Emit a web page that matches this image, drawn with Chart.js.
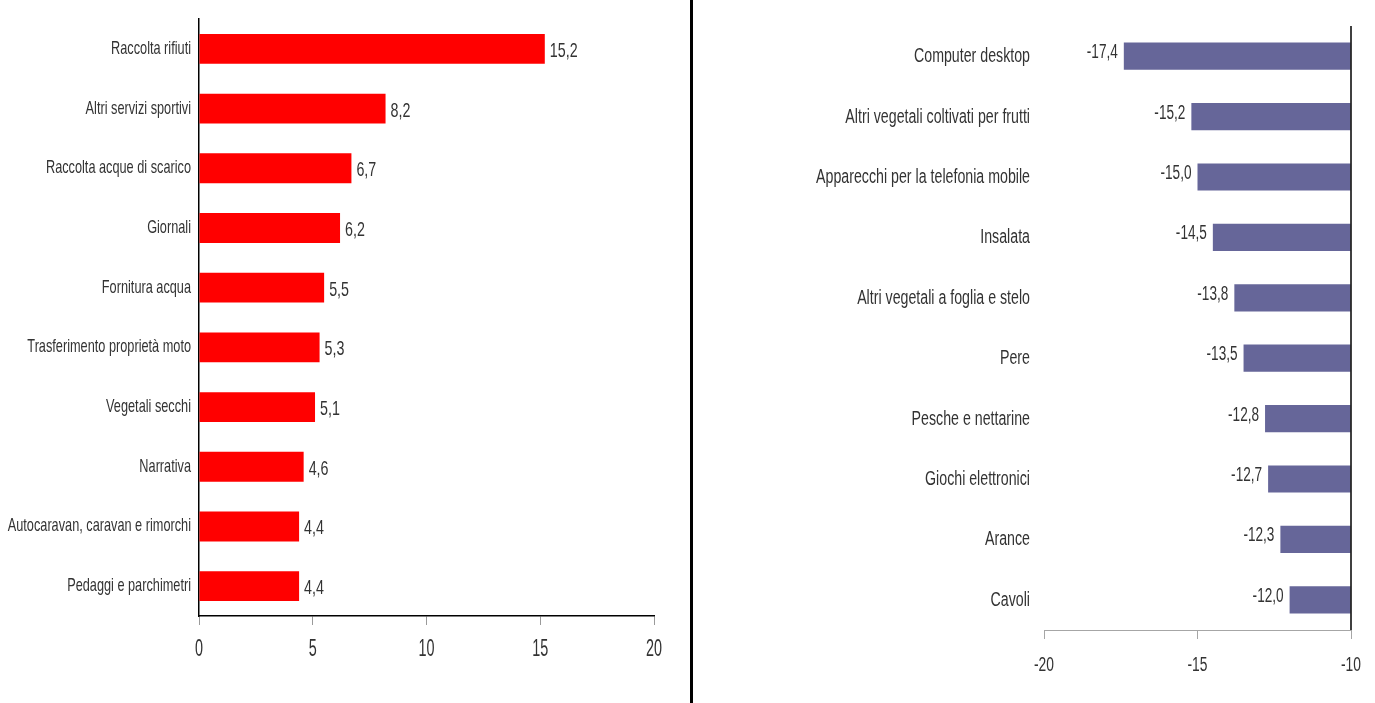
<!DOCTYPE html>
<html>
<head>
<meta charset="utf-8">
<script src="https://cdn.jsdelivr.net/npm/chart.js@4"></script>
<style>
  body { margin: 0; background: #fff; }
  #wrap { position: relative; width: 1375px; height: 703px; }
  #boxLeft { position: absolute; left: 0; top: 0; width: 690px; height: 703px; }
  #boxRight { position: absolute; left: 692px; top: 0; width: 683px; height: 703px; }
  #divider { position: absolute; left: 690px; top: 0; width: 3px; height: 703px; background: #000; }
</style>
</head>
<body>
<div id="wrap">
  <div id="boxLeft"><canvas id="chartUp"></canvas></div>
  <div id="divider"></div>
  <div id="boxRight"><canvas id="chartDown"></canvas></div>
</div>
<script>
const upLabels = [
    "Raccolta rifiuti", "Altri servizi sportivi", "Raccolta acque di scarico", "Giornali",
    "Fornitura acqua", "Trasferimento proprietà moto", "Vegetali secchi", "Narrativa",
    "Autocaravan, caravan e rimorchi", "Pedaggi e parchimetri"
];
const upValues = [15.2, 8.2, 6.7, 6.2, 5.5, 5.3, 5.1, 4.6, 4.4, 4.4];
const upTicks = [0, 5, 10, 15, 20];

const downLabels = [
    "Computer desktop", "Altri vegetali coltivati per frutti", "Apparecchi per la telefonia mobile",
    "Insalata", "Altri vegetali a foglia e stelo", "Pere", "Pesche e nettarine",
    "Giochi elettronici", "Arance", "Cavoli"
];
const downValues = [-17.4, -15.2, -15.0, -14.5, -13.8, -13.5, -12.8, -12.7, -12.3, -12.0];
const downTicks = [-20, -15, -10];

const FONT = "'Liberation Sans', Arial, sans-serif";
const TEXT = '#333333';

Chart.defaults.font.family = FONT;
Chart.defaults.color = TEXT;
Chart.defaults.animation = false;

const fmt = v => v.toFixed(1).replace('.', ',');

// the original uses a very narrow face: squeeze the text horizontally with fillText's maxWidth
function squeezed(ctx, text, x, y, k) {
    const w = ctx.measureText(text).width;
    ctx.fillText(text, x, y, w * k);
}

// draws category labels, tick labels and bar values
function textLayer(cfg) {
    return {
        id: 'textLayer',
        afterDatasetsDraw(chart) {
            const ctx = chart.ctx;
            const xs = chart.scales.x;
            const ys = chart.scales.y;
            const meta = chart.getDatasetMeta(0);
            const values = chart.data.datasets[0].data;
            ctx.save();
            ctx.fillStyle = TEXT;
            ctx.textBaseline = 'alphabetic';

            ctx.font = cfg.cat.size + "px " + FONT;
            ctx.textAlign = 'right';
            chart.data.labels.forEach((lab, i) => {
                squeezed(ctx, lab, ys.right - cfg.cat.gap, ys.getPixelForTick(i) + cfg.cat.dy, cfg.cat.k);
            });

            ctx.font = cfg.tick.size + "px " + FONT;
            ctx.textAlign = 'center';
            xs.ticks.forEach(t => {
                squeezed(ctx, String(t.value), xs.getPixelForValue(t.value), xs.top + cfg.tick.dy, cfg.tick.k);
            });

            ctx.font = cfg.val.size + "px " + FONT;
            meta.data.forEach((bar, i) => {
                if (cfg.val.side === 'right') {
                    ctx.textAlign = 'left';
                    squeezed(ctx, fmt(values[i]), bar.x + cfg.val.gap, bar.y + cfg.val.dy, cfg.val.k);
                } else {
                    ctx.textAlign = 'right';
                    squeezed(ctx, fmt(values[i]), bar.x - cfg.val.gap, bar.y + cfg.val.dy, cfg.val.k);
                }
            });
            ctx.restore();
        }
    };
}

// black line at the -10 edge of the right chart
const edgeLine = {
    id: 'edgeLine',
    afterDatasetsDraw(chart) {
        const ctx = chart.ctx;
        const x = chart.scales.x.getPixelForValue(-10);
        ctx.save();
        ctx.strokeStyle = '#000';
        ctx.lineWidth = 1.5;
        ctx.beginPath();
        ctx.moveTo(x, chart.chartArea.top);
        ctx.lineTo(x, chart.chartArea.bottom);
        ctx.stroke();
        ctx.restore();
    }
};

function fixedTicks(values) {
    return function (scale) {
        scale.ticks = values.map(v => ({ value: v }));
    };
}

new Chart(document.getElementById("chartUp").getContext('2d'), {
    type: "bar",
    data: {
        labels: upLabels,
        datasets: [{
            data: upValues,
            backgroundColor: '#FF0000',
            barPercentage: 0.5,
            categoryPercentage: 1
        }]
    },
    options: {
        indexAxis: 'y',
        responsive: true,
        maintainAspectRatio: false,
        layout: { padding: { top: 19, right: 36, left: 0, bottom: 0 } },
        scales: {
            x: {
                min: 0,
                max: 20,
                afterBuildTicks: fixedTicks(upTicks),
                afterFit: s => { s.height = 87; },
                ticks: { display: false },
                grid: { drawOnChartArea: false, color: '#9a9a9a', tickLength: 9 },
                border: { color: '#000', width: 1.5 }
            },
            y: {
                afterFit: s => { s.width = 199; },
                ticks: { display: false },
                grid: { display: false },
                border: { color: '#000', width: 1.5 }
            }
        },
        plugins: {
            legend: { display: false },
            tooltip: { enabled: false }
        }
    },
    plugins: [textLayer({
        cat: { size: 19, k: 0.67, gap: 8, dy: 5 },
        tick: { size: 24, k: 0.6, dy: 40 },
        val: { size: 21, k: 0.68, gap: 5, dy: 8, side: 'right' }
    })]
});

new Chart(document.getElementById("chartDown").getContext('2d'), {
    type: "bar",
    data: {
        labels: downLabels,
        datasets: [{
            data: downValues,
            base: -10,
            backgroundColor: '#666699',
            barPercentage: 0.45,
            categoryPercentage: 1
        }]
    },
    options: {
        indexAxis: 'y',
        responsive: true,
        maintainAspectRatio: false,
        layout: { padding: { top: 26, right: 24, left: 0, bottom: 0 } },
        scales: {
            x: {
                min: -20,
                max: -10,
                afterBuildTicks: fixedTicks(downTicks),
                afterFit: s => { s.height = 73; },
                ticks: { display: false },
                grid: { drawOnChartArea: false, color: '#a6a6a6', tickLength: 9 },
                border: { color: '#a6a6a6', width: 1 }
            },
            y: {
                afterFit: s => { s.width = 352; },
                ticks: { display: false },
                grid: { display: false },
                border: { display: false }
            }
        },
        plugins: {
            legend: { display: false },
            tooltip: { enabled: false }
        }
    },
    plugins: [textLayer({
        cat: { size: 20, k: 0.71, gap: 14, dy: 6 },
        tick: { size: 20, k: 0.69, dy: 41 },
        val: { size: 20, k: 0.68, gap: 6, dy: 2, side: 'left' }
    }), edgeLine]
});
</script>
</body>
</html>
